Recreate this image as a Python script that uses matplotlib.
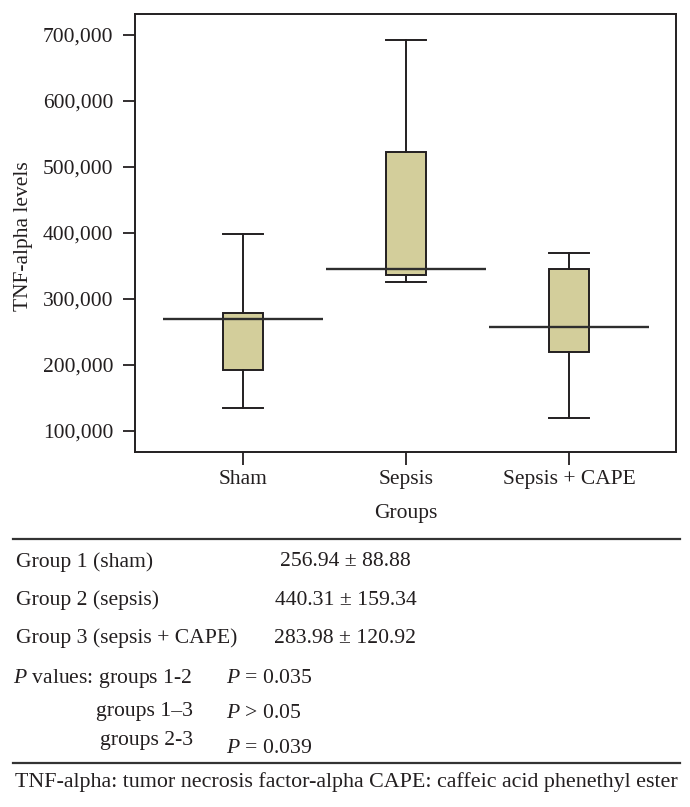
import numpy as np
import matplotlib
matplotlib.use("Agg")
import matplotlib.pyplot as plt

plt.rcParams['font.family'] = ['Liberation Serif', 'DejaVu Serif']
plt.rcParams['mathtext.fontset'] = 'custom'
plt.rcParams['mathtext.rm'] = 'Liberation Serif'
plt.rcParams['mathtext.it'] = 'Liberation Serif:italic'

# values
groups = ['Sham', 'Sepsis', 'Sepsis + CAPE']
whisker_low = [134000, 325000, 119000]
q1 = [192000, 336000, 220000]
median = [269000, 345000, 257000]
q3 = [278000, 523000, 345000]
whisker_high = [398000, 692000, 370000]

yticks = [100000, 200000, 300000, 400000, 500000, 600000, 700000]

# table below the plot
row_labels = ['Group 1 (sham)', 'Group 2 (sepsis)', 'Group 3 (sepsis + CAPE)']
row_values = ['256.94 ± 88.88', '440.31 ± 159.34', '283.98 ± 120.92']
p_labels = ['$P$ values: groups 1-2', 'groups 1–3', 'groups 2-3']
p_values = ['$P$ = 0.035', '$P$ > 0.05', '$P$ = 0.039']
footnote = 'TNF-alpha: tumor necrosis factor-alpha CAPE: caffeic acid phenethyl ester'

ink = '#231f20'
fill = '#d3ce9b'
W, H = 690, 807

fig = plt.figure(figsize=(W / 100, H / 100), dpi=100)
ax = fig.add_axes([135.3 / W, 1 - 451.7 / H, (676 - 135.3) / W, (451.7 - 14.3) / H])

pos = np.arange(1, len(groups) + 1)
stats = []
for i in range(len(groups)):
    stats.append(dict(whislo=whisker_low[i], q1=q1[i], med=median[i],
                      q3=q3[i], whishi=whisker_high[i], fliers=[]))

ax.bxp(stats, positions=pos, widths=0.25, patch_artist=True, showfliers=False,
       boxprops=dict(facecolor=fill, edgecolor=ink, linewidth=1.4),
       whiskerprops=dict(color=ink, linewidth=1.4),
       capprops=dict(color=ink, linewidth=1.4),
       medianprops=dict(linewidth=0), capwidths=0.25)
ax.hlines(median, pos - 0.49, pos + 0.49, color='#2e2e2e', linewidth=1.7, zorder=5)

ax.set_xlim(0.339, 3.656)
ax.set_ylim(68200, 731400)
ax.set_yticks(yticks)
ax.set_yticklabels([f'{v:,}' for v in yticks])
ax.set_xticks(pos)
ax.set_xticklabels(groups)
ax.tick_params(axis='both', direction='out', length=9, width=1.3, color=ink,
               labelsize=15.5, labelcolor=ink)
ax.tick_params(axis='y', pad=7)
ax.tick_params(axis='x', pad=4)
for s in ax.spines.values():
    s.set_linewidth(1.4)
    s.set_color(ink)

fig.text(24 / W, 1 - 236 / H, 'TNF-alpha levels', rotation=90, ha='center',
         va='center', fontsize=15.5, color=ink)
fig.text(405.5 / W, 1 - 518 / H, 'Groups', ha='center', va='baseline',
         fontsize=15.5, color=ink)

# table
fs = 15.6
fig.add_artist(plt.Line2D([13 / W, 680 / W], [1 - 539 / H, 1 - 539 / H],
                          color='#333333', linewidth=1.6))
fig.add_artist(plt.Line2D([13 / W, 680 / W], [1 - 763 / H, 1 - 763 / H],
                          color='#333333', linewidth=1.6))
for i, (lab, val) in enumerate(zip(row_labels, row_values)):
    y = 1 - (566.5 + 38.3 * i) / H
    fig.text(15.5 / W, y, lab, ha='left', va='baseline', fontsize=fs, color=ink)
    fig.text(345.5 / W, y, val, ha='center', va='baseline', fontsize=fs, color=ink)

p_base = [682.7, 716, 745]
p_val_base = [682.7, 718.3, 753]
for lab, val, yb, yv in zip(p_labels, p_values, p_base, p_val_base):
    fig.text(192.7 / W, 1 - yb / H, lab, ha='right', va='baseline', fontsize=fs, color=ink)
    fig.text(226 / W, 1 - yv / H, val, ha='left', va='baseline', fontsize=fs, color=ink)

fig.text(15 / W, 1 - 786.7 / H, footnote, ha='left', va='baseline', fontsize=15.8,
         color=ink)

fig.savefig('out.png', dpi=100)
